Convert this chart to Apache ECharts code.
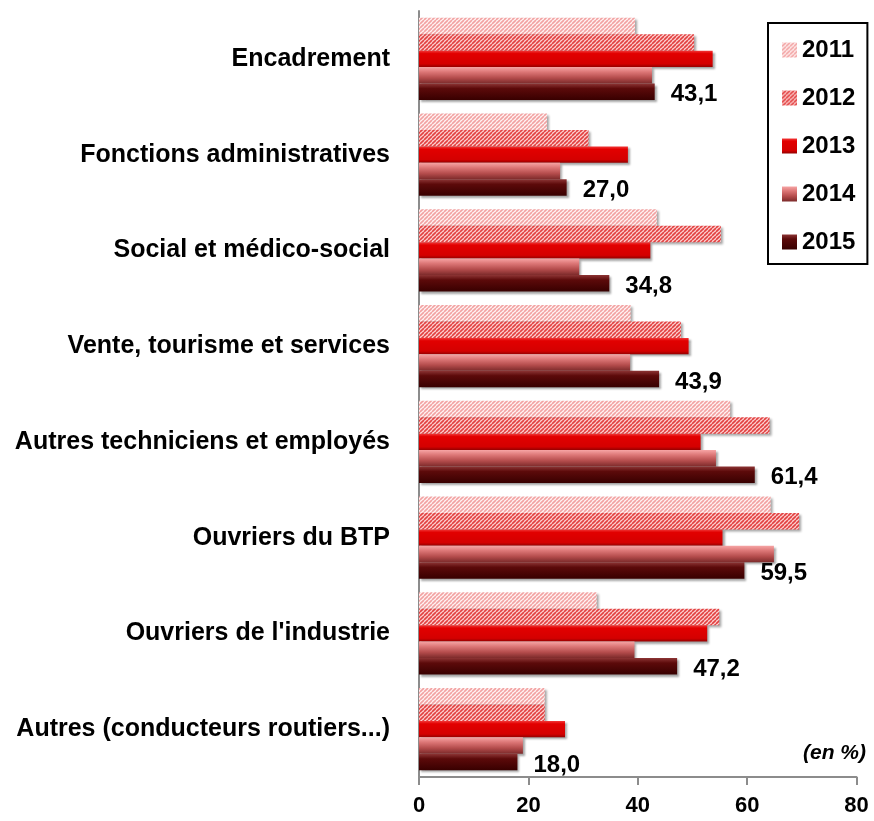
<!DOCTYPE html>
<html>
<head>
<meta charset="utf-8">
<script src="https://cdn.jsdelivr.net/npm/echarts@6/dist/echarts.min.js"></script>
<style>
html,body{margin:0;padding:0;background:#fff;}
#chart{width:874px;height:821px;}
</style>
</head>
<body>
<div id="chart"></div>
<script>
const categories = [
  "Encadrement",
  "Fonctions administratives",
  "Social et médico-social",
  "Vente, tourisme et services",
  "Autres techniciens et employés",
  "Ouvriers du BTP",
  "Ouvriers de l'industrie",
  "Autres (conducteurs routiers...)"
];
const years = ["2011", "2012", "2013", "2014", "2015"];
const v2011 = [39.5, 23.4, 43.5, 38.7, 56.9, 64.3, 32.5, 23.0];
const v2012 = [50.3, 31.0, 55.2, 47.9, 64.1, 69.5, 54.9, 23.0];
const v2013 = [53.7, 38.2, 42.3, 49.3, 51.5, 55.5, 52.7, 26.7];
const v2014 = [42.6, 25.8, 29.3, 38.6, 54.3, 64.9, 39.4, 19.0];
const v2015 = [43.1, 27.0, 34.8, 43.9, 61.4, 59.5, 47.2, 18.0];
const xTicks = [0, 20, 40, 60, 80];

function hatch(bg, fg) {
  const c = document.createElement('canvas');
  const s = 4;
  c.width = s; c.height = s;
  const g = c.getContext('2d');
  g.fillStyle = bg; g.fillRect(0, 0, s, s);
  g.strokeStyle = fg; g.lineWidth = 1.6;
  g.beginPath();
  for (let k = -s; k <= 2 * s; k += s) { g.moveTo(k, s); g.lineTo(k + s, 0); }
  g.stroke();
  return c;
}
function vgrad(stops) {
  return new echarts.graphic.LinearGradient(0, 0, 0, 1,
    stops.map(s => ({offset: s[0], color: s[1]})));
}

const styles = [
  {color: {image: hatch('#fff4f4', '#f2a2a2'), repeat: 'repeat'}},
  {color: {image: hatch('#fcd0d0', '#e24040'), repeat: 'repeat'}},
  {color: vgrad([[0, '#f23a3a'], [0.18, '#e20000'], [0.8, '#d40000'], [1, '#930000']])},
  {color: vgrad([[0, '#f6a4a4'], [0.3, '#dc7676'], [0.65, '#b44c4c'], [1, '#7c2a2a']])},
  {color: vgrad([[0, '#8c3434'], [0.3, '#5c0a0a'], [1, '#380000']])}
];
const seriesData = [v2011, v2012, v2013, v2014, v2015];

const fontFam = '"Liberation Sans", Arial, sans-serif';

const series = years.map((y, i) => ({
  name: y,
  type: 'bar',
  data: seriesData[i],
  barGap: '0%',
  barCategoryGap: '14%',
  itemStyle: Object.assign({
    shadowColor: 'rgba(0,0,0,0.35)',
    shadowBlur: 2,
    shadowOffsetX: 2,
    shadowOffsetY: 2
  }, styles[i]),
  label: i === 4 ? {
    show: true,
    position: 'right',
    distance: 16,
    offset: [0, 3],
    fontFamily: fontFam,
    fontWeight: 'bold',
    fontSize: 24,
    color: '#000',
    formatter: p => p.value.toFixed(1).replace('.', ',')
  } : {show: false},
  emphasis: {disabled: true}
}));

const chart = echarts.init(document.getElementById('chart'), null, {renderer: 'canvas'});
chart.setOption({
  animation: false,
  backgroundColor: '#fff',
  grid: {left: 419, right: 17.5, top: 11, bottom: 44, containLabel: false},
  legend: {
    orient: 'vertical',
    left: 768,
    top: 23,
    padding: [15, 12, 10, 14],
    borderColor: '#000',
    borderWidth: 2,
    itemWidth: 15,
    itemHeight: 15,
    itemGap: 24,
    icon: 'rect',
    data: years,
    textStyle: {fontFamily: fontFam, fontWeight: 'bold', fontSize: 24, lineHeight: 24, color: '#000'}
  },
  xAxis: {
    type: 'value',
    min: xTicks[0],
    max: xTicks[xTicks.length - 1],
    interval: 20,
    axisLine: {show: true, lineStyle: {color: '#8c8c8c', width: 2}},
    axisTick: {show: true, length: 8, lineStyle: {color: '#8c8c8c', width: 2}},
    splitLine: {show: false},
    axisLabel: {margin: 18, fontFamily: fontFam, fontWeight: 'bold', fontSize: 22, color: '#000'}
  },
  yAxis: {
    type: 'category',
    data: categories,
    inverse: true,
    axisLine: {show: true, lineStyle: {color: '#8c8c8c', width: 2}},
    axisTick: {show: false},
    axisLabel: {margin: 29, fontFamily: fontFam, fontWeight: 'bold', fontSize: 25, color: '#000'}
  },
  graphic: [{
    type: 'text',
    left: 803,
    top: 743,
    style: {text: '(en %)', font: 'italic bold 21px "Liberation Sans", Arial, sans-serif', fill: '#000'}
  }],
  series: series
});
</script>
</body>
</html>
